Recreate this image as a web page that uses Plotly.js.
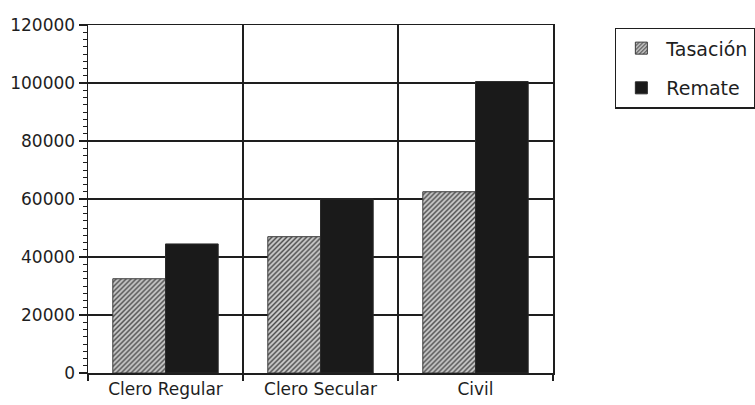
<!DOCTYPE html>
<html>
<head>
<meta charset="utf-8">
<script src="https://cdn.plot.ly/plotly-3.0.1.min.js"></script>
<style>html,body{margin:0;padding:0;background:#fff;}</style>
</head>
<body>
<div id="chart" style="width:755px;height:405px;"></div>
<script>
const categories = ["Clero Regular", "Clero Secular", "Civil"];
const tasacion = [32500, 47000, 62500];
const remate = [44500, 60000, 100500];
const seriesNames = ["Tasación", "Remate"];

const ink = "#1e1e1e";

const traces = [
  {
    type: "bar",
    name: seriesNames[0],
    x: categories,
    y: tasacion,
    legendgroup: "a",
    marker: {
      color: "#c8c8c8",
      line: {color: "#3a3a3a", width: 1},
      pattern: {shape: "/", fgcolor: "#444444", bgcolor: "#cdcdcd", size: 3.5, solidity: 0.4, fillmode: "replace"}
    },
    hoverinfo: "skip"
  },
  {
    type: "bar",
    name: seriesNames[1],
    x: categories,
    y: remate,
    legendgroup: "b",
    marker: {
      color: "#1a1a1a",
      line: {color: "#2a2a2a", width: 1}
    },
    hoverinfo: "skip"
  }
];

const layout = {
  width: 755,
  height: 405,
  margin: {l: 88, r: 202, t: 25, b: 32, autoexpand: false},
  paper_bgcolor: "#ffffff",
  plot_bgcolor: "#ffffff",
  barmode: "group",
  bargap: 0.32,
  bargroupgap: 0,
  font: {family: "DejaVu Sans, Arial, sans-serif", color: ink, size: 15},
  xaxis: {
    type: "category",
    tickson: "boundaries",
    showgrid: true,
    gridcolor: ink,
    gridwidth: 1.5,
    showline: true,
    linecolor: ink,
    linewidth: 1.5,
    mirror: true,
    ticks: "outside",
    ticklen: 6,
    tickwidth: 1.5,
    tickcolor: ink,
    tickfont: {family: "DejaVu Sans, Arial, sans-serif", size: 17, color: ink},
    zeroline: false,
    automargin: false,
    fixedrange: true
  },
  yaxis: {
    range: [0, 120000],
    tick0: 0,
    dtick: 20000,
    showgrid: true,
    gridcolor: ink,
    gridwidth: 1.5,
    showline: true,
    linecolor: ink,
    linewidth: 1.5,
    mirror: true,
    ticks: "outside",
    ticklen: 8,
    tickwidth: 1.5,
    tickcolor: ink,
    tickformat: "d",
    tickfont: {family: "DejaVu Sans, Arial, sans-serif", size: 17, color: ink},
    minor: {dtick: 2500, ticks: "outside", ticklen: 4, tickwidth: 1, tickcolor: ink, showgrid: false},
    zeroline: false,
    automargin: false,
    fixedrange: true
  },
  showlegend: true,
  legend: {
    x: 1.133,
    y: 0.992,
    xanchor: "left",
    yanchor: "top",
    bordercolor: ink,
    borderwidth: 1.5,
    bgcolor: "#ffffff",
    font: {family: "DejaVu Sans, Arial, sans-serif", size: 19, color: ink},
    tracegroupgap: 12,
    itemwidth: 40,
    entrywidth: 160
  }
};

Plotly.newPlot("chart", traces, layout, {displayModeBar: false, staticPlot: true});
</script>
</body>
</html>
